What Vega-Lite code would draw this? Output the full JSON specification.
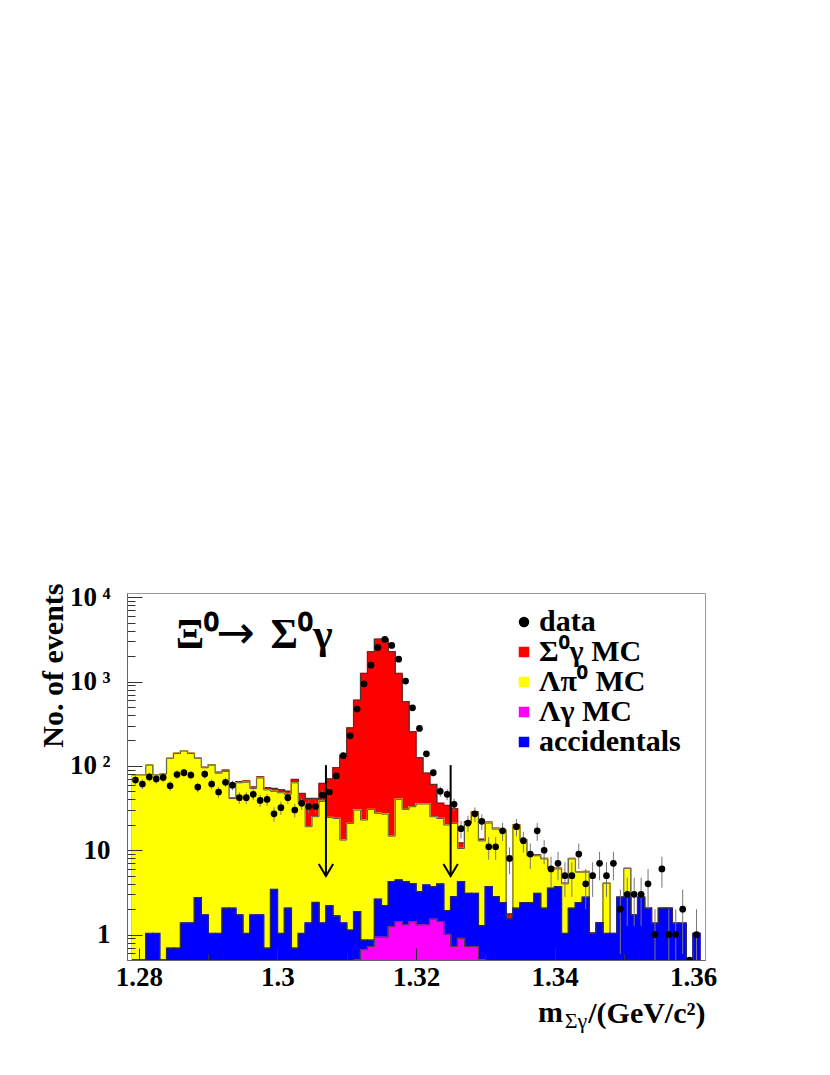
{
"$schema":"https://vega.github.io/schema/vega-lite/v6.json",
"width":578,"height":367,
"autosize":{"type":"none"},
"padding":{"left":127,"top":593,"right":125,"bottom":115},
"config":{"view":{"stroke":"#999","strokeWidth":1},"font":"Liberation Serif"},
"datasets":{
"hist":[
{"m":1.279,"e":1.28,"c":"S","v":78},{"m":1.28,"e":1.281,"c":"S","v":78},{"m":1.281,"e":1.282,"c":"S","v":102},{"m":1.282,"e":1.283,"c":"S","v":78},{"m":1.283,"e":1.284,"c":"S","v":80},{"m":1.284,"e":1.285,"c":"S","v":123},{"m":1.285,"e":1.286,"c":"S","v":141},{"m":1.286,"e":1.287,"c":"S","v":151},{"m":1.287,"e":1.288,"c":"S","v":141},{"m":1.288,"e":1.289,"c":"S","v":124},
{"m":1.289,"e":1.29,"c":"S","v":96},{"m":1.29,"e":1.291,"c":"S","v":103},{"m":1.291,"e":1.292,"c":"S","v":84},{"m":1.292,"e":1.293,"c":"S","v":89},{"m":1.293,"e":1.294,"c":"S","v":42},{"m":1.294,"e":1.295,"c":"S","v":65},{"m":1.295,"e":1.296,"c":"S","v":66},{"m":1.296,"e":1.297,"c":"S","v":56},{"m":1.297,"e":1.298,"c":"S","v":74},{"m":1.298,"e":1.299,"c":"S","v":55},
{"m":1.299,"e":1.3,"c":"S","v":54},{"m":1.3,"e":1.301,"c":"S","v":52},{"m":1.301,"e":1.302,"c":"S","v":50},{"m":1.302,"e":1.303,"c":"S","v":69},{"m":1.303,"e":1.304,"c":"S","v":47},{"m":1.304,"e":1.305,"c":"S","v":41},{"m":1.305,"e":1.306,"c":"S","v":41},{"m":1.306,"e":1.307,"c":"S","v":62},{"m":1.307,"e":1.308,"c":"S","v":70},{"m":1.308,"e":1.309,"c":"S","v":95},
{"m":1.309,"e":1.31,"c":"S","v":134},{"m":1.31,"e":1.311,"c":"S","v":282},{"m":1.311,"e":1.312,"c":"S","v":601},{"m":1.312,"e":1.313,"c":"S","v":1248},{"m":1.313,"e":1.314,"c":"S","v":2247},{"m":1.314,"e":1.315,"c":"S","v":3175},{"m":1.315,"e":1.316,"c":"S","v":3175},{"m":1.316,"e":1.317,"c":"S","v":2247},{"m":1.317,"e":1.318,"c":"S","v":1248},{"m":1.318,"e":1.319,"c":"S","v":574},
{"m":1.319,"e":1.32,"c":"S","v":254},{"m":1.32,"e":1.321,"c":"S","v":125},{"m":1.321,"e":1.322,"c":"S","v":82},{"m":1.322,"e":1.323,"c":"S","v":60},{"m":1.323,"e":1.324,"c":"S","v":36},{"m":1.324,"e":1.325,"c":"S","v":34},{"m":1.325,"e":1.326,"c":"S","v":31},{"m":1.326,"e":1.327,"c":"S","v":12.2},{"m":1.327,"e":1.328,"c":"S","v":21.8},{"m":1.328,"e":1.329,"c":"S","v":28.6},
{"m":1.329,"e":1.33,"c":"S","v":13.5},{"m":1.33,"e":1.331,"c":"S","v":21.5},{"m":1.331,"e":1.332,"c":"S","v":18.2},{"m":1.332,"e":1.333,"c":"S","v":17.3},{"m":1.333,"e":1.334,"c":"S","v":1.75},{"m":1.334,"e":1.335,"c":"S","v":19.9},{"m":1.335,"e":1.336,"c":"S","v":13.2},{"m":1.336,"e":1.337,"c":"S","v":8.8},{"m":1.337,"e":1.338,"c":"S","v":8.8},{"m":1.338,"e":1.339,"c":"S","v":8.0},
{"m":1.339,"e":1.34,"c":"S","v":6.1},{"m":1.34,"e":1.341,"c":"S","v":6.1},{"m":1.341,"e":1.342,"c":"S","v":4.06},{"m":1.342,"e":1.343,"c":"S","v":8.0},{"m":1.343,"e":1.344,"c":"S","v":5.56},{"m":1.344,"e":1.345,"c":"S","v":5.6},{"m":1.345,"e":1.346,"c":"S","v":1.05},{"m":1.346,"e":1.347,"c":"S","v":1.38},{"m":1.347,"e":1.348,"c":"S","v":4.06},{"m":1.348,"e":1.349,"c":"S","v":1.03},
{"m":1.349,"e":1.35,"c":"S","v":2.77},{"m":1.35,"e":1.351,"c":"S","v":6.1},{"m":1.351,"e":1.352,"c":"S","v":1.71},{"m":1.352,"e":1.353,"c":"S","v":2.77},{"m":1.353,"e":1.354,"c":"S","v":2.05},{"m":1.354,"e":1.355,"c":"S","v":1.36},{"m":1.355,"e":1.356,"c":"S","v":2.05},{"m":1.356,"e":1.357,"c":"S","v":2.05},{"m":1.357,"e":1.358,"c":"S","v":1.36},{"m":1.358,"e":1.359,"c":"S","v":1.36},
{"m":1.359,"e":1.36,"c":"S","v":0},{"m":1.36,"e":1.361,"c":"S","v":1.03},

{"m":1.279,"e":1.28,"c":"L","v":78},{"m":1.28,"e":1.281,"c":"L","v":78},{"m":1.281,"e":1.282,"c":"L","v":102},{"m":1.282,"e":1.283,"c":"L","v":78},{"m":1.283,"e":1.284,"c":"L","v":80},{"m":1.284,"e":1.285,"c":"L","v":123},{"m":1.285,"e":1.286,"c":"L","v":140},{"m":1.286,"e":1.287,"c":"L","v":150},{"m":1.287,"e":1.288,"c":"L","v":140},{"m":1.288,"e":1.289,"c":"L","v":123},
{"m":1.289,"e":1.29,"c":"L","v":95},{"m":1.29,"e":1.291,"c":"L","v":102},{"m":1.291,"e":1.292,"c":"L","v":82},{"m":1.292,"e":1.293,"c":"L","v":86},{"m":1.293,"e":1.294,"c":"L","v":41},{"m":1.294,"e":1.295,"c":"L","v":63},{"m":1.295,"e":1.296,"c":"L","v":64},{"m":1.296,"e":1.297,"c":"L","v":54},{"m":1.297,"e":1.298,"c":"L","v":72},{"m":1.298,"e":1.299,"c":"L","v":52},
{"m":1.299,"e":1.3,"c":"L","v":50},{"m":1.3,"e":1.301,"c":"L","v":48},{"m":1.301,"e":1.302,"c":"L","v":46},{"m":1.302,"e":1.303,"c":"L","v":63},{"m":1.303,"e":1.304,"c":"L","v":36},{"m":1.304,"e":1.305,"c":"L","v":19},{"m":1.305,"e":1.306,"c":"L","v":25},{"m":1.306,"e":1.307,"c":"L","v":38},{"m":1.307,"e":1.308,"c":"L","v":24.5},{"m":1.308,"e":1.309,"c":"L","v":23.8},
{"m":1.309,"e":1.31,"c":"L","v":13.2},{"m":1.31,"e":1.311,"c":"L","v":20.8},{"m":1.311,"e":1.312,"c":"L","v":29.9},{"m":1.312,"e":1.313,"c":"L","v":22.8},{"m":1.313,"e":1.314,"c":"L","v":30.5},{"m":1.314,"e":1.315,"c":"L","v":27.4},{"m":1.315,"e":1.316,"c":"L","v":26.8},{"m":1.316,"e":1.317,"c":"L","v":14.7},{"m":1.317,"e":1.318,"c":"L","v":40.1},{"m":1.318,"e":1.319,"c":"L","v":30.5},
{"m":1.319,"e":1.32,"c":"L","v":32.8},{"m":1.32,"e":1.321,"c":"L","v":35.3},{"m":1.321,"e":1.322,"c":"L","v":35.3},{"m":1.322,"e":1.323,"c":"L","v":25},{"m":1.323,"e":1.324,"c":"L","v":23.8},{"m":1.324,"e":1.325,"c":"L","v":19.9},{"m":1.325,"e":1.326,"c":"L","v":20.8},{"m":1.326,"e":1.327,"c":"L","v":10.5},{"m":1.327,"e":1.328,"c":"L","v":20.8},{"m":1.328,"e":1.329,"c":"L","v":28.1},
{"m":1.329,"e":1.33,"c":"L","v":12.9},{"m":1.33,"e":1.331,"c":"L","v":21},{"m":1.331,"e":1.332,"c":"L","v":17.8},{"m":1.332,"e":1.333,"c":"L","v":17},{"m":1.333,"e":1.334,"c":"L","v":1.53},{"m":1.334,"e":1.335,"c":"L","v":19.5},{"m":1.335,"e":1.336,"c":"L","v":13},{"m":1.336,"e":1.337,"c":"L","v":8.6},{"m":1.337,"e":1.338,"c":"L","v":8.6},{"m":1.338,"e":1.339,"c":"L","v":7.9},
{"m":1.339,"e":1.34,"c":"L","v":6.0},{"m":1.34,"e":1.341,"c":"L","v":6.0},{"m":1.341,"e":1.342,"c":"L","v":4.0},{"m":1.342,"e":1.343,"c":"L","v":7.9},{"m":1.343,"e":1.344,"c":"L","v":5.5},{"m":1.344,"e":1.345,"c":"L","v":5.5},{"m":1.345,"e":1.346,"c":"L","v":1.03},{"m":1.346,"e":1.347,"c":"L","v":1.38},{"m":1.347,"e":1.348,"c":"L","v":4.06},{"m":1.348,"e":1.349,"c":"L","v":1.03},
{"m":1.349,"e":1.35,"c":"L","v":2.77},{"m":1.35,"e":1.351,"c":"L","v":6.1},{"m":1.351,"e":1.352,"c":"L","v":1.71},{"m":1.352,"e":1.353,"c":"L","v":2.77},{"m":1.353,"e":1.354,"c":"L","v":2.05},{"m":1.354,"e":1.355,"c":"L","v":1.36},{"m":1.355,"e":1.356,"c":"L","v":2.05},{"m":1.356,"e":1.357,"c":"L","v":2.05},{"m":1.357,"e":1.358,"c":"L","v":1.36},{"m":1.358,"e":1.359,"c":"L","v":1.36},
{"m":1.359,"e":1.36,"c":"L","v":0},{"m":1.36,"e":1.361,"c":"L","v":1.03},

{"m":1.279,"e":1.28,"c":"A","v":0},{"m":1.28,"e":1.281,"c":"A","v":0},{"m":1.281,"e":1.282,"c":"A","v":1.03},{"m":1.282,"e":1.283,"c":"A","v":1.03},{"m":1.283,"e":1.284,"c":"A","v":0},{"m":1.284,"e":1.285,"c":"A","v":0.69},{"m":1.285,"e":1.286,"c":"A","v":0.69},{"m":1.286,"e":1.287,"c":"A","v":1.37},{"m":1.287,"e":1.288,"c":"A","v":1.37},{"m":1.288,"e":1.289,"c":"A","v":2.74},
{"m":1.289,"e":1.29,"c":"A","v":1.71},{"m":1.29,"e":1.291,"c":"A","v":1.03},{"m":1.291,"e":1.292,"c":"A","v":1.03},{"m":1.292,"e":1.293,"c":"A","v":2.06},{"m":1.293,"e":1.294,"c":"A","v":2.06},{"m":1.294,"e":1.295,"c":"A","v":1.71},{"m":1.295,"e":1.296,"c":"A","v":1.03},{"m":1.296,"e":1.297,"c":"A","v":1.71},{"m":1.297,"e":1.298,"c":"A","v":1.71},{"m":1.298,"e":1.299,"c":"A","v":0.69},
{"m":1.299,"e":1.3,"c":"A","v":3.43},{"m":1.3,"e":1.301,"c":"A","v":1.03},{"m":1.301,"e":1.302,"c":"A","v":2.06},{"m":1.302,"e":1.303,"c":"A","v":0.69},{"m":1.303,"e":1.304,"c":"A","v":1.03},{"m":1.304,"e":1.305,"c":"A","v":1.37},{"m":1.305,"e":1.306,"c":"A","v":2.4},{"m":1.306,"e":1.307,"c":"A","v":1.37},{"m":1.307,"e":1.308,"c":"A","v":2.2},{"m":1.308,"e":1.309,"c":"A","v":1.66},
{"m":1.309,"e":1.31,"c":"A","v":1.37},{"m":1.31,"e":1.311,"c":"A","v":1.13},{"m":1.311,"e":1.312,"c":"A","v":1.87},{"m":1.312,"e":1.313,"c":"A","v":0.86},{"m":1.313,"e":1.314,"c":"A","v":0.86},{"m":1.314,"e":1.315,"c":"A","v":2.62},{"m":1.315,"e":1.316,"c":"A","v":2.2},{"m":1.316,"e":1.317,"c":"A","v":4.24},{"m":1.317,"e":1.318,"c":"A","v":4.43},{"m":1.318,"e":1.319,"c":"A","v":4.24},
{"m":1.319,"e":1.32,"c":"A","v":4.0},{"m":1.32,"e":1.321,"c":"A","v":3.22},{"m":1.321,"e":1.322,"c":"A","v":3.87},{"m":1.322,"e":1.323,"c":"A","v":3.7},{"m":1.323,"e":1.324,"c":"A","v":3.97},{"m":1.324,"e":1.325,"c":"A","v":1.92},{"m":1.325,"e":1.326,"c":"A","v":2.81},{"m":1.326,"e":1.327,"c":"A","v":4.24},{"m":1.327,"e":1.328,"c":"A","v":3.08},{"m":1.328,"e":1.329,"c":"A","v":3.08},
{"m":1.329,"e":1.33,"c":"A","v":1.27},{"m":1.33,"e":1.331,"c":"A","v":3.7},{"m":1.331,"e":1.332,"c":"A","v":2.81},{"m":1.332,"e":1.333,"c":"A","v":2.39},{"m":1.333,"e":1.334,"c":"A","v":1.53},{"m":1.334,"e":1.335,"c":"A","v":2.05},{"m":1.335,"e":1.336,"c":"A","v":2.39},{"m":1.336,"e":1.337,"c":"A","v":2.39},{"m":1.337,"e":1.338,"c":"A","v":3.08},{"m":1.338,"e":1.339,"c":"A","v":2.05},
{"m":1.339,"e":1.34,"c":"A","v":3.54},{"m":1.34,"e":1.341,"c":"A","v":3.7},{"m":1.341,"e":1.342,"c":"A","v":1.03},{"m":1.342,"e":1.343,"c":"A","v":2.05},{"m":1.343,"e":1.344,"c":"A","v":2.39},{"m":1.344,"e":1.345,"c":"A","v":2.77},{"m":1.345,"e":1.346,"c":"A","v":1.03},{"m":1.346,"e":1.347,"c":"A","v":1.38},{"m":1.347,"e":1.348,"c":"A","v":1.03},{"m":1.348,"e":1.349,"c":"A","v":1.03},
{"m":1.349,"e":1.35,"c":"A","v":2.77},{"m":1.35,"e":1.351,"c":"A","v":2.77},{"m":1.351,"e":1.352,"c":"A","v":1.71},{"m":1.352,"e":1.353,"c":"A","v":2.77},{"m":1.353,"e":1.354,"c":"A","v":2.05},{"m":1.354,"e":1.355,"c":"A","v":1.36},{"m":1.355,"e":1.356,"c":"A","v":2.05},{"m":1.356,"e":1.357,"c":"A","v":2.05},{"m":1.357,"e":1.358,"c":"A","v":1.36},{"m":1.358,"e":1.359,"c":"A","v":1.36},
{"m":1.359,"e":1.36,"c":"A","v":0},{"m":1.36,"e":1.361,"c":"A","v":1.03},

{"m":1.311,"e":1.312,"c":"G","v":0},{"m":1.312,"e":1.313,"c":"G","v":0.66},{"m":1.313,"e":1.314,"c":"G","v":0.72},{"m":1.314,"e":1.315,"c":"G","v":0.93},{"m":1.315,"e":1.316,"c":"G","v":0.93},{"m":1.316,"e":1.317,"c":"G","v":1.24},{"m":1.317,"e":1.318,"c":"G","v":1.42},{"m":1.318,"e":1.319,"c":"G","v":1.3},{"m":1.319,"e":1.32,"c":"G","v":1.42},{"m":1.32,"e":1.321,"c":"G","v":1.3},
{"m":1.321,"e":1.322,"c":"G","v":1.3},{"m":1.322,"e":1.323,"c":"G","v":1.52},{"m":1.323,"e":1.324,"c":"G","v":1.42},{"m":1.324,"e":1.325,"c":"G","v":1.0},{"m":1.325,"e":1.326,"c":"G","v":0.72},{"m":1.326,"e":1.327,"c":"G","v":0.9},{"m":1.327,"e":1.328,"c":"G","v":0.72},{"m":1.328,"e":1.329,"c":"G","v":0.72},{"m":1.329,"e":1.33,"c":"G","v":0}
],
"pts":[
{"x":1.2795,"n":68,"lo":59.8,"hi":76.2},{"x":1.2805,"n":61,"lo":53.2,"hi":68.8},{"x":1.2815,"n":74,"lo":65.4,"hi":82.6},{"x":1.2825,"n":70,"lo":61.6,"hi":78.4},{"x":1.2835,"n":73,"lo":64.5,"hi":81.5},{"x":1.2845,"n":58,"lo":50.4,"hi":65.6},{"x":1.2855,"n":79,"lo":70.1,"hi":87.9},{"x":1.2865,"n":83,"lo":73.9,"hi":92.1},{"x":1.2875,"n":78,"lo":69.2,"hi":86.8},{"x":1.2885,"n":56,"lo":48.5,"hi":63.5},
{"x":1.2895,"n":80,"lo":71.1,"hi":88.9},{"x":1.2905,"n":61,"lo":53.2,"hi":68.8},{"x":1.2915,"n":49,"lo":42,"hi":56},{"x":1.2925,"n":64,"lo":56,"hi":72},{"x":1.2935,"n":59,"lo":51.3,"hi":66.7},{"x":1.2945,"n":42,"lo":35.5,"hi":48.5},{"x":1.2955,"n":42,"lo":35.5,"hi":48.5},{"x":1.2965,"n":46,"lo":39.2,"hi":52.8},{"x":1.2975,"n":39,"lo":32.8,"hi":45.2},{"x":1.2985,"n":40,"lo":33.7,"hi":46.3},
{"x":1.2995,"n":27,"lo":21.8,"hi":32.2},{"x":1.3005,"n":32,"lo":26.3,"hi":37.7},{"x":1.3015,"n":42,"lo":35.5,"hi":48.5},{"x":1.3025,"n":30,"lo":24.5,"hi":35.5},{"x":1.3035,"n":36,"lo":30,"hi":42},{"x":1.3045,"n":33,"lo":27.3,"hi":38.7},{"x":1.3055,"n":33,"lo":27.3,"hi":38.7},{"x":1.3065,"n":45,"lo":38.3,"hi":51.7},{"x":1.3075,"n":49,"lo":42,"hi":56},{"x":1.3085,"n":76,"lo":67.3,"hi":84.7},
{"x":1.3095,"n":132,"lo":120.5,"hi":143.5},{"x":1.3105,"n":227,"lo":211.9,"hi":242.1},{"x":1.3115,"n":471,"lo":449.3,"hi":492.7},{"x":1.3125,"n":939,"lo":908.4,"hi":969.6},{"x":1.3135,"n":1563,"lo":1523.5,"hi":1602.5},{"x":1.3145,"n":2535,"lo":2484.7,"hi":2585.3},{"x":1.3155,"n":3154,"lo":3097.8,"hi":3210.2},{"x":1.3165,"n":2677,"lo":2625.3,"hi":2728.7},{"x":1.3175,"n":1842,"lo":1799.1,"hi":1884.9},{"x":1.3185,"n":1011,"lo":979.2,"hi":1042.8},
{"x":1.3195,"n":488,"lo":465.9,"hi":510.1},{"x":1.3205,"n":278,"lo":261.3,"hi":294.7},{"x":1.3215,"n":139,"lo":127.2,"hi":150.8},{"x":1.3225,"n":83,"lo":73.9,"hi":92.1},{"x":1.3235,"n":50,"lo":42.9,"hi":57.1},{"x":1.3245,"n":46,"lo":39.2,"hi":52.8},{"x":1.3255,"n":35,"lo":29.1,"hi":40.9},{"x":1.3265,"n":18,"lo":13.8,"hi":22.2},{"x":1.3275,"n":21,"lo":16.4,"hi":25.6},{"x":1.3285,"n":27,"lo":21.8,"hi":32.2},
{"x":1.3295,"n":22,"lo":17.3,"hi":26.7},{"x":1.3305,"n":11,"lo":7.7,"hi":14.3},{"x":1.3315,"n":11,"lo":7.7,"hi":14.3},{"x":1.3325,"n":17,"lo":12.9,"hi":21.1},{"x":1.3335,"n":8,"lo":5.2,"hi":10.8},{"x":1.3345,"n":19,"lo":14.6,"hi":23.4},{"x":1.3355,"n":13,"lo":9.4,"hi":16.6},{"x":1.3365,"n":9,"lo":6,"hi":12},{"x":1.3375,"n":17,"lo":12.9,"hi":21.1},{"x":1.3385,"n":10,"lo":6.8,"hi":13.2},
{"x":1.3395,"n":6,"lo":3.6,"hi":8.4},{"x":1.3405,"n":7,"lo":4.4,"hi":9.6},{"x":1.3415,"n":5,"lo":2.8,"hi":7.2},{"x":1.3425,"n":5,"lo":2.8,"hi":7.2},{"x":1.3435,"n":9,"lo":6,"hi":12},{"x":1.3445,"n":4,"lo":2,"hi":6},{"x":1.3455,"n":5,"lo":2.8,"hi":7.2},{"x":1.3465,"n":7,"lo":4.4,"hi":9.6},{"x":1.3475,"n":5,"lo":2.8,"hi":7.2},{"x":1.3485,"n":7,"lo":4.4,"hi":9.6},
{"x":1.3495,"n":2,"lo":0.59,"hi":3.41},{"x":1.3505,"n":3,"lo":1.27,"hi":4.73},{"x":1.3515,"n":3,"lo":1.27,"hi":4.73},{"x":1.3525,"n":3,"lo":1.27,"hi":4.73},{"x":1.3535,"n":4,"lo":2,"hi":6},{"x":1.3545,"n":1,"lo":0,"hi":2},{"x":1.3555,"n":6,"lo":3.6,"hi":8.4},{"x":1.3565,"n":1,"lo":0,"hi":2},{"x":1.3575,"n":1,"lo":0,"hi":2},{"x":1.3585,"n":2,"lo":0.59,"hi":3.41},
{"x":1.3595,"n":0,"lo":0,"hi":0},{"x":1.3605,"n":1,"lo":0,"hi":2}
]
},
"layer":[
{"data":{"name":"hist"},"transform":[{"filter":"datum.c == 'S'"}],
 "mark":{"type":"bar","color":"#ff0000","stroke":"#ff0000","strokeWidth":1.5,"clip":true,"orient":"vertical"},
 "encoding":{
  "x":{"field":"m","type":"quantitative","scale":{"domain":[1.279,1.361],"nice":false,"zero":false},
   "axis":{"values":[1.28,1.285,1.29,1.295,1.3,1.305,1.31,1.315,1.32,1.325,1.33,1.335,1.34,1.345,1.35,1.355,1.36],
    "labelExpr":"abs(datum.value*50 - round(datum.value*50)) < 0.001 ? format(datum.value, '.2~f') : ''",
    "tickSize":{"condition":{"test":"abs(datum.value*50 - round(datum.value*50)) < 0.001","value":-12},"value":-6},
    "tickColor":"#333","domainColor":"#666","grid":false,"zindex":1,
    "labelFont":"Liberation Serif","labelFontSize":27,"labelFontWeight":"bold","labelColor":"black","labelPadding":16,"labelOverlap":false,"labelFlush":false,
    "title":"/(GeV/c²)","titleFont":"Liberation Serif","titleFontSize":30,"titleFontWeight":"bold","titleColor":"black",
    "titleAnchor":"end","titleAlign":"right","titleBaseline":"alphabetic","titleX":578,"titleY":62}},
  "x2":{"field":"e"},
  "y":{"field":"v","type":"quantitative","stack":null,"scale":{"type":"log","domain":[0.5,11200],"nice":false,"clamp":true},
   "axis":{"values":[0.6,0.7,0.8,0.9,1,2,3,4,5,6,7,8,9,10,20,30,40,50,60,70,80,90,100,200,300,400,500,600,700,800,900,1000,2000,3000,4000,5000,6000,7000,8000,9000,10000],
    "labelExpr":"datum.value == 1 ? '1\u2002' : datum.value == 10 ? '10\u2002' : datum.value == 100 ? '10\u2009²' : datum.value == 1000 ? '10\u2009³' : datum.value == 10000 ? '10\u2009⁴' : ''",
    "tickSize":{"condition":{"test":"datum.value == 1 || datum.value == 10 || datum.value == 100 || datum.value == 1000 || datum.value == 10000","value":-15},"value":-8},
    "tickColor":"#333","domainColor":"#666","grid":false,"zindex":1,
    "labelFont":"Liberation Serif","labelFontSize":27,"labelFontWeight":"bold","labelColor":"black","labelPadding":32,"labelOverlap":false,"labelFlush":false,"labelBaseline":"middle",
    "title":"No. of events","titleFont":"Liberation Serif","titleFontSize":30,"titleFontWeight":"bold","titleColor":"black",
    "titleAnchor":"end","titleAlign":"right","titleAngle":-90,"titleBaseline":"middle","titleX":-74,"titleY":-10}},
  "y2":{"datum":0.5}
 }},
{"data":{"name":"hist"},"transform":[{"filter":"datum.c == 'S'"}],
 "mark":{"type":"line","interpolate":"step-after","color":"#3a3a3a","strokeWidth":1,"clip":true},
 "encoding":{"x":{"field":"m","type":"quantitative"},"y":{"field":"v","type":"quantitative"}}},
{"data":{"name":"hist"},"transform":[{"filter":"datum.c == 'L'"}],
 "mark":{"type":"bar","color":"#ffff00","stroke":"#ffff00","strokeWidth":1.5,"clip":true,"orient":"vertical"},
 "encoding":{"x":{"field":"m","type":"quantitative"},"x2":{"field":"e"},"y":{"field":"v","type":"quantitative","stack":null},"y2":{"datum":0.5}}},
{"data":{"name":"hist"},"transform":[{"filter":"datum.c == 'L'"}],
 "mark":{"type":"line","interpolate":"step-after","color":"#555555","strokeWidth":1,"clip":true},
 "encoding":{"x":{"field":"m","type":"quantitative"},"y":{"field":"v","type":"quantitative"}}},
{"data":{"name":"hist"},"transform":[{"filter":"datum.c == 'A'"}],
 "mark":{"type":"bar","color":"#0000ff","stroke":"#0000ff","strokeWidth":1.5,"clip":true,"orient":"vertical"},
 "encoding":{"x":{"field":"m","type":"quantitative"},"x2":{"field":"e"},"y":{"field":"v","type":"quantitative","stack":null},"y2":{"datum":0.5}}},
{"data":{"name":"hist"},"transform":[{"filter":"datum.c == 'A'"}],
 "mark":{"type":"line","interpolate":"step-after","color":"#333333","strokeWidth":1,"clip":true},
 "encoding":{"x":{"field":"m","type":"quantitative"},"y":{"field":"v","type":"quantitative"}}},
{"data":{"name":"hist"},"transform":[{"filter":"datum.c == 'G'"}],
 "mark":{"type":"bar","color":"#ff00ff","stroke":"#ff00ff","strokeWidth":1.5,"clip":true,"orient":"vertical"},
 "encoding":{"x":{"field":"m","type":"quantitative"},"x2":{"field":"e"},"y":{"field":"v","type":"quantitative","stack":null},"y2":{"datum":0.5}}},
{"data":{"name":"hist"},"transform":[{"filter":"datum.c == 'G'"}],
 "mark":{"type":"line","interpolate":"step-after","color":"#444444","strokeWidth":1,"clip":true},
 "encoding":{"x":{"field":"m","type":"quantitative"},"y":{"field":"v","type":"quantitative"}}},
{"data":{"name":"pts"},
 "mark":{"type":"rule","color":"#777777","strokeWidth":1,"clip":true},
 "encoding":{"x":{"field":"x","type":"quantitative"},"y":{"field":"lo","type":"quantitative"},"y2":{"field":"hi"}}},
{"data":{"name":"pts"},
 "mark":{"type":"circle","color":"black","size":45,"opacity":1,"clip":true},
 "encoding":{"x":{"field":"x","type":"quantitative"},"y":{"field":"n","type":"quantitative"}}},
{"data":{"values":[{"cut":1.307},{"cut":1.325}]},
 "mark":{"type":"rule","color":"black","strokeWidth":2},
 "encoding":{"x":{"field":"cut","type":"quantitative"},"y":{"datum":102},"y2":{"datum":4.95}}},
{"data":{"values":[{"cut":1.307},{"cut":1.325}]},
 "mark":{"type":"point","shape":"M-0.6,-1L0,0L0.6,-1","size":576,"filled":false,"stroke":"black","strokeWidth":2,"opacity":1},
 "encoding":{"x":{"field":"cut","type":"quantitative"},"y":{"datum":4.95}}},
{"data":{"values":[{}]},
 "mark":{"type":"text","text":"Ξ⁰","font":"Liberation Serif","fontSize":42,"fontWeight":"bold","align":"left","baseline":"alphabetic","color":"black"},
 "encoding":{"x":{"datum":1.2853},"y":{"datum":2490}}},
{"data":{"values":[{}]},
 "mark":{"type":"text","text":"→","font":"DejaVu Sans","fontSize":46,"align":"left","baseline":"alphabetic","color":"black"},
 "encoding":{"x":{"datum":1.2912},"y":{"datum":2490}}},
{"data":{"values":[{}]},
 "mark":{"type":"text","text":"Σ⁰γ","font":"Liberation Serif","fontSize":42,"fontWeight":"bold","align":"left","baseline":"alphabetic","color":"black"},
 "encoding":{"x":{"datum":1.2990},"y":{"datum":2490}}},
{"data":{"values":[{}]},
 "mark":{"type":"text","text":"m","font":"Liberation Serif","fontSize":30,"fontWeight":"bold","align":"left","baseline":"alphabetic","color":"black","dy":62},
 "encoding":{"x":{"datum":1.33763},"y":{"datum":0.5}}},
{"data":{"values":[{}]},
 "mark":{"type":"text","text":"Σγ","font":"Liberation Serif","fontSize":22,"align":"left","baseline":"alphabetic","color":"black","dy":68},
 "encoding":{"x":{"datum":1.34146},"y":{"datum":0.5}}},
{"data":{"values":[{"k":"data"},{"k":"Σ⁰γ MC"},{"k":"Λπ⁰ MC"},{"k":"Λγ MC"},{"k":"accidentals"}]},
 "mark":{"type":"point","filled":true,"clip":true,"size":110,"opacity":1},
 "encoding":{"x":{"datum":1.2},"y":{"datum":1},
  "color":{"field":"k","type":"nominal","scale":{"domain":["data","Σ⁰γ MC","Λπ⁰ MC","Λγ MC","accidentals"],"range":["#000000","#ff0000","#ffff00","#ff00ff","#0000ff"]},
   "legend":{"orient":"none","legendX":382,"legendY":14,"title":null,"padding":0,"labelFont":"Liberation Serif","labelFontSize":30,"labelFontWeight":"bold","labelColor":"black","labelLimit":400,"labelOffset":0,"rowPadding":0,"symbolSize":110,
    "encode":{"symbols":{"update":{"stroke":{"value":"black"},"strokeWidth":{"value":1.5},"opacity":{"value":1}}}}}},
  "shape":{"field":"k","type":"nominal","scale":{"domain":["data","Σ⁰γ MC","Λπ⁰ MC","Λγ MC","accidentals"],"range":["circle","square","square","square","square"]}}}}
]
}
